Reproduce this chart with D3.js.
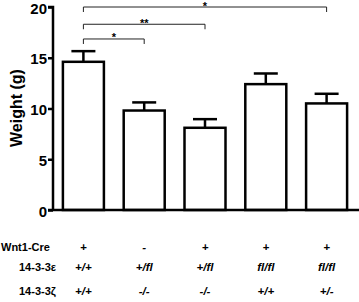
<!DOCTYPE html>
<html>
<head>
<meta charset="utf-8">
<script src="https://cdn.jsdelivr.net/npm/d3@7"></script>
<style>
  body { margin: 0; background: #fff; }
  text { font-family: "Liberation Sans", Arial, sans-serif; }
</style>
</head>
<body>
<div id="chart"></div>
<script>
let width = 359,
    height = 302,
    margin = ({ top: 7, right: 2, bottom: 92, left: 53 });

// data
const groups = ["g1", "g2", "g3", "g4", "g5"];
const means = [14.6, 9.8, 8.1, 12.4, 10.5];
const errs = [1.05, 0.8, 0.85, 1.05, 0.95];
const yTicks = [0, 5, 10, 15, 20];

// significance brackets: [from, to, level, label]
const brackets = [
  ["g1", "g5", 20, "*"],
  ["g1", "g3", 18.3, "**"],
  ["g1", "g2", 16.85, "*"]
];

const rowLabels = ["Wnt1-Cre", "14-3-3\u03b5", "14-3-3\u03b6"];
const wnt1 = ["+", "-", "+", "+", "+"];
const eps = ["+/+", "+/fl", "+/fl", "fl/fl", "fl/fl"];
const zeta = ["+/+", "-/-", "-/-", "+/+", "+/-"];

const svg = d3.select("#chart")
  .append("svg")
  .attr("width", width)
  .attr("height", height);

let x = d3.scalePoint()
  .domain(groups)
  .range([margin.left, width - margin.right])
  .padding(0.5);

let y = d3.scaleLinear()
  .domain([0, 20])
  .range([height - margin.bottom, margin.top]);

const barW = 41;

// bars
svg.selectAll("rect.bar")
  .data(groups)
  .join("rect")
  .attr("class", "bar")
  .attr("x", d => x(d) - barW / 2)
  .attr("y", (d, i) => y(means[i]))
  .attr("width", barW)
  .attr("height", (d, i) => y(0) - y(means[i]))
  .attr("fill", "#fff")
  .attr("stroke", "#000")
  .attr("stroke-width", 2.5);

// error bars
groups.forEach((g, i) => {
  svg.append("line")
    .attr("x1", x(g)).attr("x2", x(g))
    .attr("y1", y(means[i])).attr("y2", y(means[i] + errs[i]))
    .attr("stroke", "#000").attr("stroke-width", 2.5);
  svg.append("line")
    .attr("x1", x(g) - 12).attr("x2", x(g) + 12)
    .attr("y1", y(means[i] + errs[i])).attr("y2", y(means[i] + errs[i]))
    .attr("stroke", "#000").attr("stroke-width", 2.5);
});

// y axis
let yAxis = svg.append("g")
  .attr("transform", `translate(${margin.left},0)`)
  .call(d3.axisLeft(y).tickValues(yTicks).tickSize(5).tickPadding(1));
yAxis.select(".domain").attr("stroke-width", 2.5).attr("d", `M-5,${y(20)}H0V${y(0)}`);
yAxis.selectAll(".tick line").attr("stroke-width", 2.5);
yAxis.selectAll(".tick text")
  .attr("font-size", 15).attr("font-weight", "bold")
  .attr("dy", "0.4em")
  .attr("font-family", "Liberation Sans, Arial, sans-serif");

// x axis baseline
svg.append("line")
  .attr("x1", margin.left - 5).attr("x2", width)
  .attr("y1", y(0)).attr("y2", y(0))
  .attr("stroke", "#000").attr("stroke-width", 2.5);

// y label
svg.append("text")
  .attr("transform", `translate(22,108) rotate(-90)`)
  .attr("text-anchor", "middle")
  .attr("font-size", 16)
  .attr("font-weight", "bold")
  .text("Weight (g)");

// brackets
brackets.forEach(([a, b, lvl, lab]) => {
  let yy = y(lvl);
  svg.append("path")
    .attr("d", `M${x(a)},${yy + 5}V${yy}H${x(b)}V${yy + 5}`)
    .attr("fill", "none")
    .attr("stroke", "#222")
    .attr("stroke-width", 1);
  svg.append("text")
    .attr("x", (x(a) + x(b)) / 2)
    .attr("y", yy + 2.5)
    .attr("text-anchor", "middle")
    .attr("font-size", 11)
    .attr("font-weight", "bold")
    .text(lab);
});

// genotype table
const rows = [wnt1, eps, zeta];
const rowY = [248, 268, 292];
const labelX = [1, 19, 19];

rows.forEach((vals, r) => {
  svg.append("text")
    .attr("x", labelX[r])
    .attr("y", rowY[r])
    .attr("dominant-baseline", "middle")
    .attr("font-size", 11)
    .attr("font-weight", "bold")
    .text(rowLabels[r]);
  svg.selectAll(null)
    .data(vals)
    .join("text")
    .attr("x", (d, i) => x(groups[i]))
    .attr("y", rowY[r])
    .attr("dominant-baseline", "middle")
    .attr("text-anchor", "middle")
    .attr("font-size", 11.5)
    .attr("font-weight", "bold")
    .attr("font-style", "italic")
    .text(d => d);
});
</script>
</body>
</html>
